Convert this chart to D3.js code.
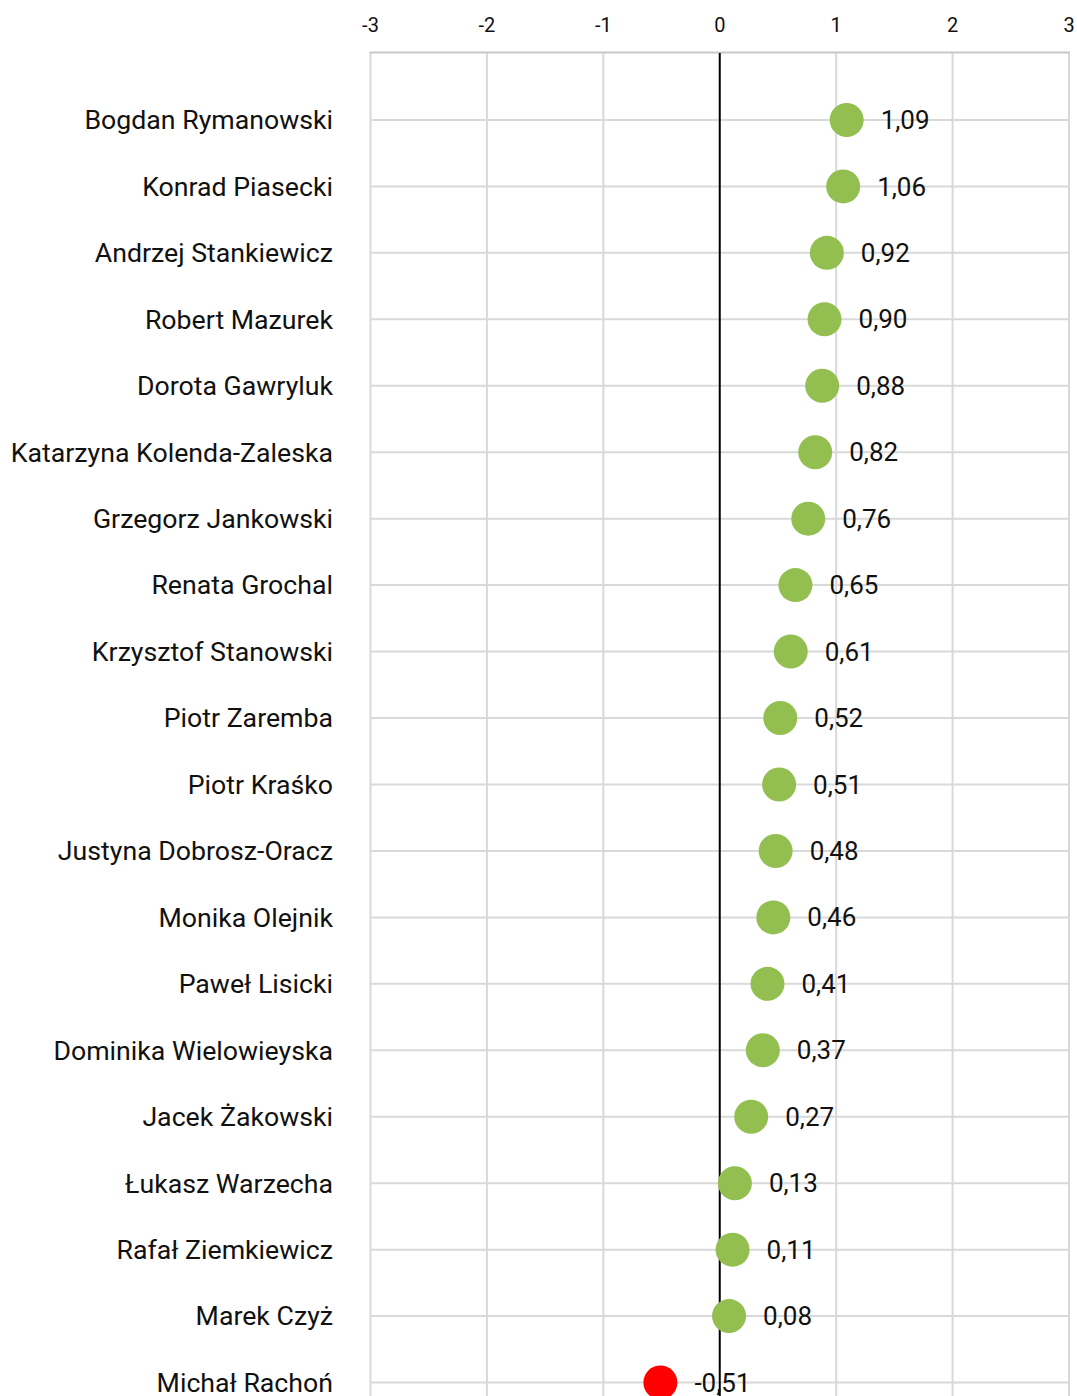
<!DOCTYPE html>
<head>
    <meta charset="utf-8">
    <title>Dot plot</title>
    <script src="https://d3js.org/d3.v7.min.js"></script>
    <style>
      body { margin: 0; background: #fff; }
      text { font-family: Roboto, sans-serif; fill: #111; }
    </style>
</head>
<body>
    <svg width="1077" height="1396"></svg>
</body>
<script>
const names = [
  "Bogdan Rymanowski", "Konrad Piasecki", "Andrzej Stankiewicz", "Robert Mazurek",
  "Dorota Gawryluk", "Katarzyna Kolenda-Zaleska", "Grzegorz Jankowski", "Renata Grochal",
  "Krzysztof Stanowski", "Piotr Zaremba", "Piotr Kraśko", "Justyna Dobrosz-Oracz",
  "Monika Olejnik", "Paweł Lisicki", "Dominika Wielowieyska", "Jacek Żakowski",
  "Łukasz Warzecha", "Rafał Ziemkiewicz", "Marek Czyż", "Michał Rachoń"
];
const values = [1.09, 1.06, 0.92, 0.90, 0.88, 0.82, 0.76, 0.65, 0.61, 0.52,
                0.51, 0.48, 0.46, 0.41, 0.37, 0.27, 0.13, 0.11, 0.08, -0.51];
const ticks = [-3, -2, -1, 0, 1, 2, 3];

const data = names.map((n, i) => ({ name: n, value: values[i] }));

const svg = d3.select("svg");
const x = d3.scaleLinear().domain([-3, 3]).range([370.5, 1069]);
const y = d3.scalePoint().domain(names).range([53.5, 1449]).padding(1);

// horizontal grid
svg.append("g").selectAll("line")
  .data(names).join("line")
  .attr("x1", x(-3)).attr("x2", x(3))
  .attr("y1", d => y(d)).attr("y2", d => y(d))
  .attr("stroke", "#d9d9d9").attr("stroke-width", 2);

// vertical grid
svg.append("g").selectAll("line")
  .data(ticks.filter(t => t !== 0)).join("line")
  .attr("x1", d => x(d)).attr("x2", d => x(d))
  .attr("y1", 52.5).attr("y2", 1396)
  .attr("stroke", "#d9d9d9").attr("stroke-width", 2);

// top border
svg.append("line")
  .attr("x1", x(-3) - 1).attr("x2", x(3) + 1)
  .attr("y1", 52.5).attr("y2", 52.5)
  .attr("stroke", "#c8c8c8").attr("stroke-width", 2);

// zero line
svg.append("line")
  .attr("x1", x(0)).attr("x2", x(0))
  .attr("y1", 53).attr("y2", 1396)
  .attr("stroke", "#000").attr("stroke-width", 2);

// tick labels on top
svg.append("g").selectAll("text")
  .data(ticks).join("text")
  .attr("x", d => x(d)).attr("y", 32)
  .attr("text-anchor", "middle")
  .attr("font-size", "20px")
  .text(d => d);

// names
svg.append("g").selectAll("text")
  .data(data).join("text")
  .attr("x", 333).attr("y", d => y(d.name))
  .attr("dy", "0.35em")
  .attr("text-anchor", "end")
  .attr("font-size", "26.7px")
  .text(d => d.name);

// dots
svg.append("g").selectAll("circle")
  .data(data).join("circle")
  .attr("cx", d => x(d.value)).attr("cy", d => y(d.name))
  .attr("r", 17)
  .attr("fill", d => d.value < 0 ? "#ff0000" : "#92bf50");

// value labels
svg.append("g").selectAll("text")
  .data(data).join("text")
  .attr("x", d => x(d.value) + 34).attr("y", d => y(d.name))
  .attr("dy", "0.35em")
  .attr("font-size", "26px")
  .text(d => d3.format(".2f")(d.value).replace(".", ",").replace("\u2212", "-"));
</script>
